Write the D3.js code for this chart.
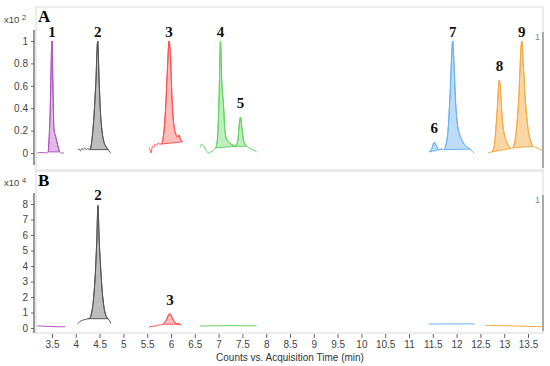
<!DOCTYPE html>
<html lang="en">
<head>
<meta charset="utf-8">
<title>Chromatograms A / B</title>
<script src="https://cdn.jsdelivr.net/npm/d3@7"></script>
<style>
  body { margin: 0; background: #fff; }
  .tick text { font-family: "Liberation Sans", Arial, sans-serif; font-size: 10px; fill: #444; }
  .tick line { stroke: #666; }
  .peak { font-family: "Liberation Serif", "Times New Roman", serif; font-weight: bold; font-size: 15px; fill: #111; }
</style>
</head>
<body>
<svg width="550" height="366"></svg>
<script>

// time ticks (min)
var timeTicks = [3.5,4,4.5,5,5.5,6,6.5,7,7.5,8,8.5,9,9.5,10,10.5,11,11.5,12,12.5,13,13.5];
var ticksA = [0,0.2,0.4,0.6,0.8,1];
var ticksB = [0,1,2,3,4,5,6,7,8];

var seriesNames = ["purple","gray","red","green","blue","orange"];
var lineColors = ["#b356c4","#555555","#ff5050","#62d462","#6cb2f2","#f6aa45"];
var fillColors = ["#dcaee3","#b2b2b2","#ffb3b3","#b4ecb4","#b3d6f8","#f9cf95"];

// panel A traces, [time, counts x10^2]
var A_purple = [[3.19,0],[3.30,0.005],[3.38,0],[3.42,0.01],[3.46,0.35],[3.50,1.0],[3.52,0.6],[3.54,0.22],[3.58,0.14],[3.62,0.07],[3.66,0.01],[3.70,0],[3.75,0]];
var A_gray = [[4.04,0.03],[4.07,0.035],[4.10,0.02],[4.13,0.04],[4.16,0.03],[4.19,0.045],[4.22,0.03],[4.25,0.04],[4.30,0.03],[4.34,0.12],[4.38,0.32],[4.42,0.62],[4.46,1.0],[4.49,0.65],[4.52,0.35],[4.55,0.2],[4.59,0.1],[4.63,0.06],[4.68,0.03],[4.71,0.01],[4.74,0]];
var A_red = [[5.54,0.05],[5.56,0.03],[5.58,0.0],[5.61,0.06],[5.64,0.05],[5.67,0.08],[5.70,0.07],[5.73,0.09],[5.76,0.08],[5.80,0.08],[5.84,0.15],[5.88,0.35],[5.92,0.7],[5.96,1.0],[5.99,0.85],[6.02,0.5],[6.06,0.25],[6.10,0.17],[6.14,0.14],[6.17,0.16],[6.20,0.12],[6.24,0.1]];
var A_green = [[6.61,0.05],[6.65,0.08],[6.69,0.06],[6.74,0.02],[6.79,0.0],[6.84,0.01],[6.90,0.03],[6.94,0.045],[6.98,0.15],[7.01,0.5],[7.04,1.0],[7.07,0.6],[7.10,0.45],[7.13,0.22],[7.17,0.12],[7.21,0.1],[7.26,0.08],[7.31,0.07],[7.35,0.06],[7.40,0.1],[7.44,0.28],[7.46,0.32],[7.49,0.22],[7.53,0.1],[7.59,0.06],[7.65,0.045],[7.72,0.03],[7.80,0.01]];
var A_blue = [[11.42,0.01],[11.47,0.03],[11.53,0.095],[11.58,0.06],[11.63,0.03],[11.69,0.035],[11.72,0.03],[11.74,0.03],[11.78,0.08],[11.82,0.2],[11.86,0.5],[11.92,1.0],[11.95,0.75],[11.98,0.45],[12.02,0.25],[12.07,0.16],[12.13,0.1],[12.20,0.06],[12.28,0.035],[12.33,0.015],[12.37,0]];
var A_orange = [[12.66,0],[12.70,0.005],[12.74,0.01],[12.79,0.06],[12.84,0.3],[12.90,0.65],[12.93,0.5],[12.96,0.3],[13.00,0.17],[13.05,0.1],[13.10,0.06],[13.14,0.04],[13.18,0.045],[13.24,0.15],[13.30,0.45],[13.37,1.0],[13.40,0.8],[13.44,0.5],[13.50,0.22],[13.56,0.1],[13.60,0.06],[13.66,0.05],[13.72,0.04],[13.81,0.02]];

// integrated regions in A, one list per series
var A_fills = [[[3.42,3.66]],[[4.30,4.68]],[[5.80,6.24]],[[6.94,7.35],[7.35,7.59]],[[11.42,11.69],[11.74,12.28]],[[12.74,13.14],[13.18,13.60]]];

// panel B traces, [time, counts x10^4]
var B_purple = [[3.19,0.14],[3.35,0.11],[3.5,0.09],[3.65,0.08],[3.78,0.08]];
var B_gray = [[4.04,0.27],[4.08,0.4],[4.14,0.5],[4.20,0.55],[4.26,0.6],[4.30,0.65],[4.33,0.95],[4.37,1.8],[4.41,3.5],[4.44,5.6],[4.465,7.9],[4.49,5.8],[4.52,4.0],[4.56,2.2],[4.60,1.2],[4.64,0.75],[4.68,0.6],[4.71,0.45],[4.74,0.3]];
var B_red = [[5.54,0.06],[5.60,0.1],[5.66,0.12],[5.72,0.18],[5.78,0.2],[5.83,0.25],[5.88,0.4],[5.92,0.65],[5.96,0.9],[5.98,0.92],[6.02,0.7],[6.06,0.45],[6.11,0.3],[6.19,0.25],[6.23,0.15]];
var B_green = [[6.6,0.13],[7.2,0.15],[7.8,0.14]];
var B_blue = [[11.42,0.26],[12.38,0.27]];
var B_orange = [[12.62,0.16],[13.2,0.13],[13.81,0.08]];

var B_fills = [[],[[4.26,4.68]],[[5.83,6.19]],[],[],[]];

// peak labels: label, apex time, apex value
var A_labels = [["1",3.50,1.0],["2",4.46,1.0],["3",5.96,1.0],["4",7.04,1.0],["5",7.46,0.32],["6",11.53,0.095],["7",11.92,1.0],["8",12.90,0.65],["9",13.37,1.0]];
var B_labels = [["2",4.465,7.9],["3",5.98,0.92]];

var svg = d3.select("svg");

var x = d3.scaleLinear().domain([3.5, 13.5]).range([52, 528]);

function drawPanel(p) {
  var g = svg.append("g");
  var y = p.y;

  g.append("rect")
    .attr("x", 36).attr("y", p.top)
    .attr("width", 507).attr("height", p.bottom - p.top)
    .attr("fill", "#fff").attr("stroke", "#e6e6e6").attr("stroke-width", 1.5);

  // y axis
  g.append("line")
    .attr("x1", 34).attr("x2", 34)
    .attr("y1", p.axisTop).attr("y2", p.axisBottom)
    .attr("stroke", "#777").attr("stroke-width", 1.5);
  var ax = g.append("g")
    .attr("transform", "translate(34,0)")
    .call(d3.axisLeft(y).tickValues(p.ticks).tickSize(3).tickPadding(3).tickFormat(d3.format("~g")));
  ax.select(".domain").remove();

  // exponent
  var ex = g.append("text")
    .attr("x", 4).attr("y", p.expY)
    .style("font-family", "Liberation Sans, Arial, sans-serif")
    .style("font-size", "9.5px").style("fill", "#444");
  ex.append("tspan").text("x10 ");
  ex.append("tspan").attr("dy", -3).style("font-size", "7.5px").text(p.exp);

  g.append("text")
    .attr("x", 38).attr("y", p.top + 15)
    .style("font-family", "Liberation Serif, Times New Roman, serif")
    .style("font-weight", "bold").style("font-size", "17px")
    .text(p.name);

  var line = d3.line()
    .x(function(d) { return x(d[0]); })
    .y(function(d) { return y(d[1]); })
    .curve(d3.curveMonotoneX);

  p.traces.forEach(function(tr, i) {
    p.fills[i].forEach(function(r) {
      var pts = tr.filter(function(d) { return d[0] >= r[0] - 1e-9 && d[0] <= r[1] + 1e-9; });
      g.append("path")
        .attr("d", line(pts) + "Z")
        .attr("fill", fillColors[i])
        .attr("fill-opacity", 0.85)
        .attr("stroke", lineColors[i])
        .attr("stroke-width", 1);
    });
    g.append("path")
      .datum(tr)
      .attr("d", line)
      .attr("fill", "none")
      .attr("stroke", lineColors[i])
      .attr("stroke-width", 1);
  });

  g.selectAll(".peak")
    .data(p.labels)
    .enter().append("text")
      .attr("class", "peak")
      .attr("text-anchor", "middle")
      .attr("x", function(d) { return x(d[1]); })
      .attr("y", function(d) { return Math.max(y(d[2]) - 9, p.axisTop + 7); })
      .text(function(d) { return d[0]; });

  // right marker
  g.append("line")
    .attr("x1", 543).attr("x2", 543)
    .attr("y1", p.axisTop + 2).attr("y2", p.bottom - 2)
    .attr("stroke", "#aaa").attr("stroke-width", 2);
  g.append("text")
    .attr("x", 540).attr("y", p.axisTop + 10)
    .attr("text-anchor", "end")
    .style("font-family", "Liberation Sans, Arial, sans-serif")
    .style("font-size", "9px").style("fill", "#888")
    .text("1");
}

drawPanel({
  name: "A", top: 7, bottom: 170, axisTop: 30, axisBottom: 165,
  y: d3.scaleLinear().domain([0, 1]).range([153, 41]),
  ticks: ticksA, exp: "2", expY: 23,
  traces: [A_purple, A_gray, A_red, A_green, A_blue, A_orange],
  fills: A_fills, labels: A_labels
});

drawPanel({
  name: "B", top: 171, bottom: 333, axisTop: 193, axisBottom: 333,
  y: d3.scaleLinear().domain([0, 8]).range([328, 204]),
  ticks: ticksB, exp: "4", expY: 186,
  traces: [B_purple, B_gray, B_red, B_green, B_blue, B_orange],
  fills: B_fills, labels: B_labels
});

var xa = svg.append("g")
  .attr("transform", "translate(0,334)")
  .call(d3.axisBottom(x).tickValues(timeTicks).tickSize(4).tickPadding(3).tickFormat(d3.format("~f")));
xa.select(".domain").remove();

svg.append("text")
  .attr("x", 290).attr("y", 361)
  .attr("text-anchor", "middle")
  .style("font-family", "Liberation Sans, Arial, sans-serif")
  .style("font-size", "10px").style("fill", "#333")
  .text("Counts vs. Acquisition Time (min)");

</script>
</body>
</html>
